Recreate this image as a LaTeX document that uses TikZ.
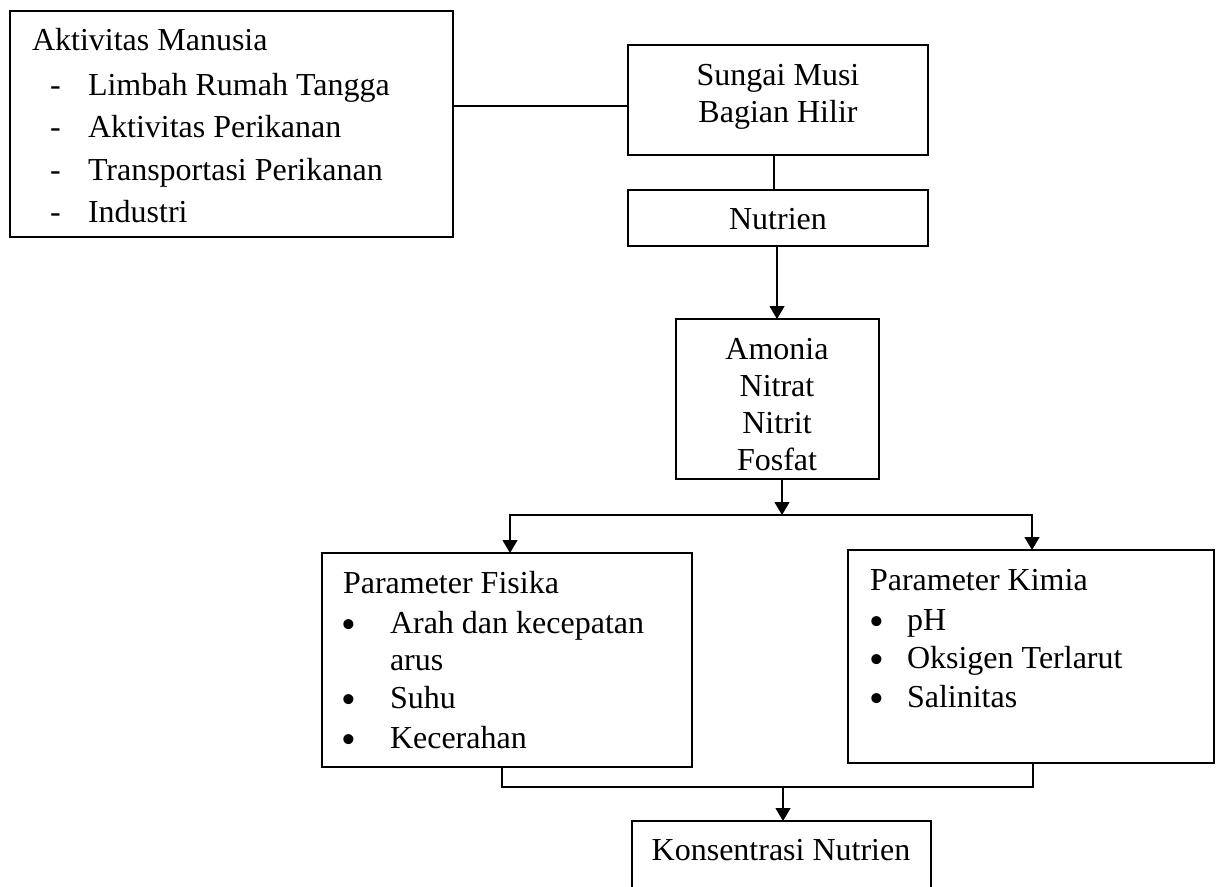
\documentclass[tikz,border=0pt]{standalone}
\usepackage{fontspec}
\setmainfont{Liberation Serif}
\usetikzlibrary{arrows.meta}
\begin{document}
\begin{tikzpicture}[x=1pt,y=-1pt,
  box/.style={draw, line width=1.2pt, inner sep=0pt, outer sep=0pt},
  txt/.style={inner sep=0pt, outer sep=0pt, font=\fontsize{32}{38}\selectfont},
  bul/.style={inner sep=0pt, outer sep=0pt, font=\fontsize{42}{42}\selectfont},
  conn/.style={line width=1.2pt},
  arr/.style={conn, -{Triangle[width=15pt,length=13pt]}}]
\clip (0,0) rectangle (1217,886);
\fill[white] (0,0) rectangle (1217,886);
% boxes
\node[box, minimum width=443pt, minimum height=226pt] (akt) at (231.5,124) {};
\node[box, minimum width=300pt, minimum height=110pt] (sungai) at (778,100) {};
\node[box, minimum width=300pt, minimum height=56pt] (nutrien) at (778,218) {};
\node[box, minimum width=203pt, minimum height=160pt] (amonia) at (777.5,399) {};
\node[box, minimum width=370pt, minimum height=214pt] (fisika) at (507,660) {};
\node[box, minimum width=366pt, minimum height=213pt] (kimia) at (1031,656.5) {};
\node[box, minimum width=299pt, minimum height=80pt] (kons) at (781.5,861) {};
% texts: Aktivitas Manusia
\node[txt, anchor=base west] (aktT) at (32,50) {Aktivitas Manusia};
\node[txt, anchor=base west] (ad1) at (50,95) {-};
\node[txt, anchor=base west] (ad2) at (50,137) {-};
\node[txt, anchor=base west] (ad3) at (50,180) {-};
\node[txt, anchor=base west] (ad4) at (50,222) {-};
\node[txt, anchor=base west] (ai1) at (88,95) {Limbah Rumah Tangga};
\node[txt, anchor=base west] (ai2) at (88,137) {Aktivitas Perikanan};
\node[txt, anchor=base west] (ai3) at (88,180) {Transportasi Perikanan};
\node[txt, anchor=base west] (ai4) at (88,222) {Industri};
% Sungai
\node[txt, anchor=base] (s1) at (778,85) {Sungai Musi};
\node[txt, anchor=base] (s2) at (778,122) {Bagian Hilir};
\node[txt, anchor=base] (n1) at (778,229) {Nutrien};
% Amonia
\node[txt, anchor=base] (m1) at (777,359) {Amonia};
\node[txt, anchor=base] (m2) at (777,396) {Nitrat};
\node[txt, anchor=base] (m3) at (777,433) {Nitrit};
\node[txt, anchor=base] (m4) at (777,470) {Fosfat};
% Fisika
\node[txt, anchor=base west] (fT) at (343,593) {Parameter Fisika};
\node[bul, anchor=base] (fb1) at (349,638) {•};
\node[bul, anchor=base] (fb2) at (349,713) {•};
\node[bul, anchor=base] (fb3) at (349,753) {•};
\node[txt, anchor=base west] (f1) at (390,633) {Arah dan kecepatan};
\node[txt, anchor=base west] (f1b) at (390,670) {arus};
\node[txt, anchor=base west] (f2) at (390,708) {Suhu};
\node[txt, anchor=base west] (f3) at (390,748) {Kecerahan};
% Kimia
\node[txt, anchor=base west] (kT) at (870,590) {Parameter Kimia};
\node[bul, anchor=base] (kb1) at (877,635) {•};
\node[bul, anchor=base] (kb2) at (877,673) {•};
\node[bul, anchor=base] (kb3) at (877,712) {•};
\node[txt, anchor=base west] (k1) at (907,630) {pH};
\node[txt, anchor=base west] (k2) at (907,668) {Oksigen Terlarut};
\node[txt, anchor=base west] (k3) at (907,707) {Salinitas};
% Konsentrasi
\node[txt, anchor=base] (kn) at (781,860) {Konsentrasi Nutrien};
% connectors
\draw[conn] ([yshift=18pt]akt.east) -- ([yshift=-6pt]sungai.west);
\draw[conn] ([xshift=-4pt]sungai.south) -- ([xshift=-4pt]nutrien.north);
\draw[arr] ([xshift=-1pt]nutrien.south) -- ([xshift=-0.5pt]amonia.north);
\coordinate (split) at (782,515);
\coordinate (join) at (783,787);
\draw[arr] ([xshift=4.5pt]amonia.south) -- (split);
\draw[arr] (split) -| ([xshift=3pt]fisika.north);
\draw[arr] (split) -| ([xshift=1pt]kimia.north);
\draw[conn] ([xshift=-5pt]fisika.south) |- (join);
\draw[conn] ([xshift=2pt]kimia.south) |- (join);
\draw[arr] (join) -- ([xshift=1.5pt]kons.north);
\end{tikzpicture}
\end{document}
